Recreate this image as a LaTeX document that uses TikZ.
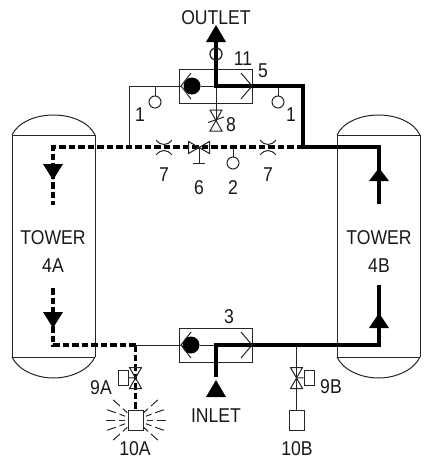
\documentclass[tikz,border=0pt]{standalone}
\usepackage{fontspec}
\setmainfont[FakeStretch=0.88]{Liberation Sans}
\usetikzlibrary{positioning}

\begin{document}
\begin{tikzpicture}[x=1pt,y=-1pt]
            \tikzset{thinline/.style = {draw=black!85, line width=1pt}}
            \tikzset{flowon/.style = {draw=black, line width=4.6pt}}
            \tikzset{flowoff/.style = {draw=black, line width=3.2pt, dash pattern=on 6.5pt off 3pt}}
            \tikzset{sensor/.style = {shape=circle, thinline, fill=white, inner sep=0pt, minimum size=12pt}}
            \tikzset{valvebox/.style = {shape=rectangle, thinline, inner sep=0pt, minimum width=73pt, minimum height=34pt}}
            \tikzset{lampbox/.style = {shape=rectangle, thinline, fill=white, inner sep=0pt, minimum width=15pt, minimum height=20pt}}
            \tikzset{solbox/.style = {shape=rectangle, thinline, fill=white, inner sep=0pt, minimum width=10pt, minimum height=15pt}}
            \tikzset{ball/.style = {shape=circle, fill=black, inner sep=0pt, minimum size=17pt}}
            \tikzset{tag/.style = {inner sep=0pt, font=\fontsize{20}{28}\selectfont, align=center, text=black!90}}
            \useasboundingbox (0,0) rectangle (427,466);
            % towers
            \foreach \l in {12,337} {
                \draw[thinline] (\l,135) -- (\l,357) (\l+83,135) -- (\l+83,357);
                \draw[thinline] (\l,135) -- (\l+83,135) (\l,357) -- (\l+83,357);
                \draw[thinline] (\l,135) .. controls (\l+6,122) and (\l+24,115) .. (\l+41.5,115) .. controls (\l+59,115) and (\l+77,122) .. (\l+83,135);
                \draw[thinline] (\l,357) .. controls (\l+6,370) and (\l+24,378) .. (\l+41.5,378) .. controls (\l+59,378) and (\l+77,370) .. (\l+83,357);
            }
            % vertices
            \node[valvebox] (box5) at (215.5,86) {};
            \node[valvebox] (box3) at (215.5,345) {};
            \node[ball] (ball5) at (192,86) {};
            \node[ball] (ball3) at (191,345) {};
            \node[sensor] (s1a) at (155,102) {};
            \node[sensor] (s1b) at (278,102) {};
            \node[sensor] (s2) at (233,163) {};
            \node[sensor] (s11) at (216,54) {};
            \node[lampbox] (lamp10a) at (135.5,420) {};
            \node[lampbox] (lamp10b) at (296.5,420) {};
            \node[solbox] (sol9a) at (123,377.5) {};
            \node[solbox] (sol9b) at (309,377.5) {};
            \coordinate (outlet) at (216,42);
            \coordinate (inlet) at (216,377);
            \coordinate (j5) at (216,86);
            \coordinate (j3) at (216,345);
            \coordinate (up5) at (303,86);
            \coordinate (j147) at (303,147);
            \coordinate (b147) at (379,147);
            \coordinate (bend4b) at (379,204);
            \coordinate (low4b) at (379,285);
            \coordinate (b345) at (379,345);
            \coordinate (a147) at (53,147);
            \coordinate (bend4a) at (53,205);
            \coordinate (low4a) at (53,288);
            \coordinate (a345) at (53,345);
            \coordinate (j135) at (135.5,345);
            \coordinate (p129) at (129,147);
            \coordinate (p129t) at (129,86);
            \coordinate (v9a) at (135.5,378);
            \coordinate (v9b) at (296.5,378);
            \coordinate (v8) at (216,120.5);
            \coordinate (v6) at (199,147.5);
            % thin lines
            \draw[thinline] (p129) -- (p129t) -- (181,86);
            \draw[thinline] (ball5) -- (j5) -- (v8);
            \draw[thinline] (j135) -- (ball3) -- (j3);
            \draw[thinline] (296.5,345) -- (lamp10b);
            \draw[thinline] (155,86) -- (s1a);
            \draw[thinline] (278,86) -- (s1b);
            \draw[thinline] (233,147) -- (s2);
            \draw[thinline] (sol9a) -- (v9a);
            \draw[thinline] (sol9b) -- (v9b);
            % flow lines
            \draw[flowoff] (j147) -- (a147) -- (bend4a);
            \draw[flowoff] (low4a) -- (a345) -- (j135);
            \draw[flowoff] (j135) -- (lamp10a);
            \draw[flowon,line join=miter] (outlet) -- (j5) -- (up5) -- (j147) -- (b147) -- (bend4b);
            \draw[flowon,line join=miter] (inlet) -- (j3) -- (b345) -- (low4b);
            \node[sensor,fill=none] at (s11) {};
            % arrowheads
            \foreach \x/\y/\d in {216/42/-17,216/397/-17,379/181/-13,379/328/-15,53/164/16,53/312/16} {
                \fill[black] (\x-10,\y) -- (\x+10,\y) -- (\x,\y+\d) -- cycle;
            }
            % chevrons
            \foreach \y in {86,345} {
                \draw[thinline] (191,\y-13) -- (181,\y) -- (191,\y+13);
                \draw[thinline] (241,\y-13) -- (252,\y) -- (241,\y+13);
            }
            % valves
            \foreach \c in {v8,v9a,v9b} {
                \begin{scope}[shift={(\c)}]
                    \draw[thinline] (-6,-10.5) -- (6,-10.5) -- (-6,10.5) -- (6,10.5) -- cycle;
                \end{scope}
            }
            \draw[thinline] (208,122.5) -- (224,117);
            \begin{scope}[shift={(v6)}]
                \draw[thinline] (-10.5,-6) -- (-10.5,6) -- (10.5,-6) -- (10.5,6) -- cycle;
                \draw[thinline] (0,0) -- (0,15.5) (-6,15.5) -- (6,15.5);
            \end{scope}
            % orifices
            \foreach \x in {164,268} {
                \draw[thinline] (\x-8,140) .. controls (\x-3,146) and (\x+3,146) .. (\x+8,140);
                \draw[thinline] (\x-8,155) .. controls (\x-3,149) and (\x+3,149) .. (\x+8,155);
            }
            % lamp rays
            \foreach \a in {0,20,42,138,160,180,200,222,318,340} {
                \draw[thinline] (135.5,420) ++(\a:11) -- ++(\a:6);
                \draw[thinline] (135.5,420) ++(\a:21) -- ++(\a:9);
            }
            % labels
            \node[tag] (outlettxt) at (216,18) {OUTLET};
            \node[tag] (t11) at (243,59) {11};
            \node[tag] (t5) at (263,71) {5};
            \node[tag] (t1a) at (140,115) {1};
            \node[tag] (t1b) at (291,115) {1};
            \node[tag] (t8) at (231,125) {8};
            \node[tag] (t7a) at (164,175) {7};
            \node[tag] (t7b) at (268,175) {7};
            \node[tag] (t6) at (199,188) {6};
            \node[tag] (t2) at (233,188) {2};
            \node[tag] (t3) at (229,317) {3};
            \node[tag] (tw4a) at (53,252) {TOWER\\4A};
            \node[tag] (tw4b) at (379,252) {TOWER\\4B};
            \node[tag] (t9a) at (101,388) {9A};
            \node[tag] (t9b) at (331,387) {9B};
            \node[tag] (inlettxt) at (216,416) {INLET};
            \node[tag] (t10a) at (135,449) {10A};
            \node[tag] (t10b) at (297,449) {10B};
        \end{tikzpicture}
\end{document}
